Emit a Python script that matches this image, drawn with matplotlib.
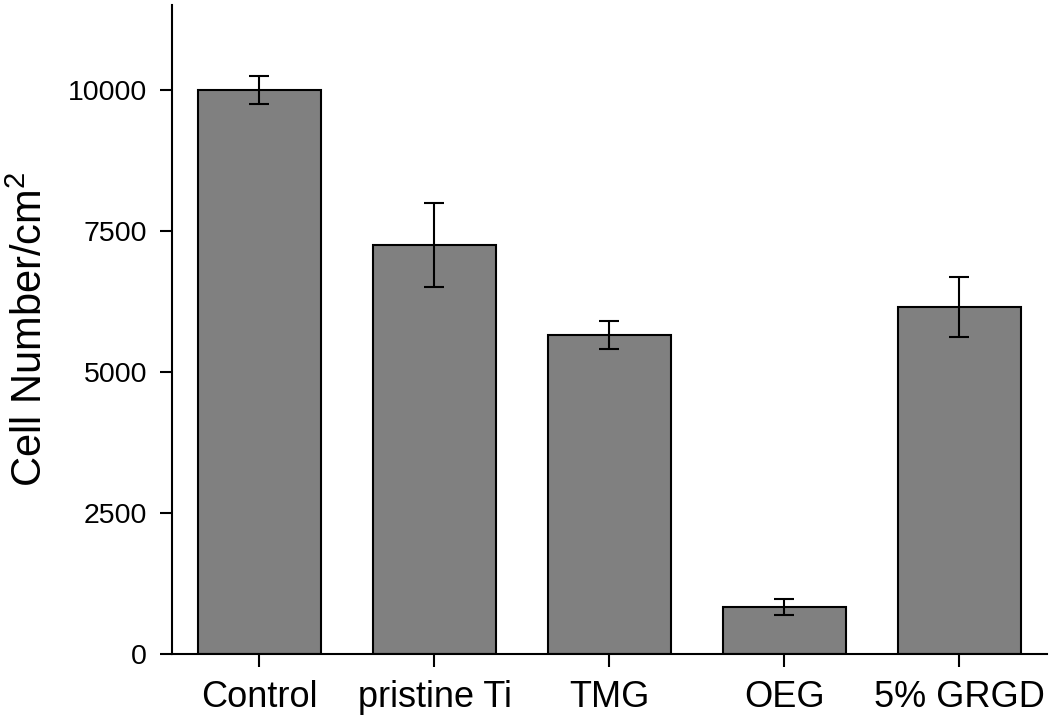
import numpy as np
import matplotlib.pyplot as plt

plt.rcParams['font.family'] = ['Liberation Sans', 'DejaVu Sans']

groups = ['Control', 'pristine Ti', 'TMG', 'OEG', '5% GRGD']
cells = [10000, 7250, 5650, 830, 6150]
errs = [250, 750, 250, 140, 530]
yticks = [0, 2500, 5000, 7500, 10000]

fig = plt.figure(figsize=(10.5, 7.19), dpi=100)
ax = fig.add_axes([0.1638, 0.0904, 0.8333, 0.9026])

x = np.arange(len(groups))
ax.bar(x, cells, width=0.7, color='#808080', edgecolor='black', linewidth=1.5, zorder=2)
ax.errorbar(x, cells, yerr=errs, fmt='none', ecolor='black', elinewidth=1.5,
            capsize=7, capthick=1.5, zorder=3)

ax.set_xlim(-0.5, 4.5)
ax.set_ylim(0, 11500)
ax.set_xticks(x)
ax.set_xticklabels(groups, fontsize=26)
ax.set_yticks(yticks)
ax.set_yticklabels([str(v) for v in yticks], fontsize=20.5)
ax.tick_params(axis='x', length=9, width=1.5, pad=10)
ax.tick_params(axis='y', length=9, width=1.5, pad=9)
ax.set_ylabel('Cell Number/cm$^{\\mathregular{2}}$', fontsize=30, labelpad=12)

for s in ['top', 'right']:
    ax.spines[s].set_visible(False)
for s in ['left', 'bottom']:
    ax.spines[s].set_linewidth(1.5)

fig.savefig('out.png', dpi=100)
